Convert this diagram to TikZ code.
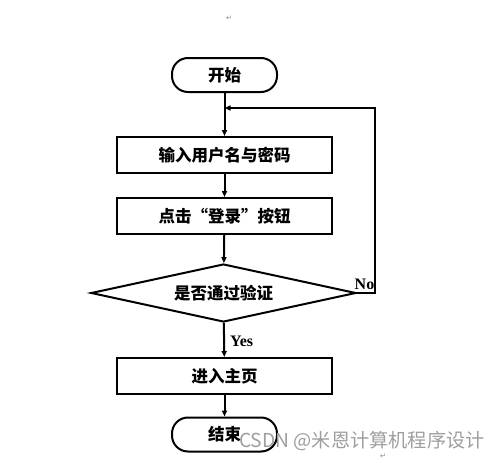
\documentclass[tikz,border=0pt]{standalone}
\usepackage{fontspec}
\setmainfont{Liberation Serif}
\newfontfamily\cjk{Noto Sans CJK SC}
\newfontfamily\symf{DejaVu Sans}
\usetikzlibrary{arrows.meta,shapes.geometric}
\begin{document}
\begin{tikzpicture}[x=1pt,y=-1pt,
  every node/.style={inner sep=0pt},
  lbl/.style={font=\cjk\bfseries\fontsize{16.5}{19}\selectfont},
  term/.style={draw, line width=2pt, rounded corners=16pt, minimum width=105pt, minimum height=34pt, lbl},
  proc/.style={draw, line width=2pt, minimum width=215pt, minimum height=36pt, lbl},
  dec/.style={draw, diamond, aspect=4.57, line width=2pt, minimum width=265pt, minimum height=58pt, lbl},
  flow/.style={line width=2pt, -{Triangle[length=6pt,width=5pt]}},
  yn/.style={font=\bfseries\fontsize{16}{18}\selectfont},
  pmark/.style={font=\symf\fontsize{7}{8}\selectfont, text=gray}
]
\useasboundingbox (0,0) rectangle (499,463);
\node[term] (start) at (224.5,75) {开始};
\node[proc] (in) at (224.5,155) {输入用户名与密码};
\node[proc] (click) at (224.5,216) {点击“登录”按钮};
\node[dec] (chk) at (223.5,293) {是否通过验证};
\node[proc] (home) at (224.5,376) {进入主页};
\node[term] (stop) at (224.5,434.5) {结束};
\coordinate (nr) at (375,293);
\coordinate (tr) at (375,108);
\coordinate (jn) at (224.5,108);
\draw[flow] (start) -- (in);
\draw[flow] (in) -- (click);
\draw[flow] (click) -- (chk);
\draw[flow] (chk) -- node[yn, right, xshift=5pt, yshift=-1pt] {Yes} (home);
\draw[flow] (home) -- (stop);
\draw[flow] (chk.east) -- (nr) -- (tr) -- (jn);
\node[yn] (no) at (364.5,284) {No};
\node[font=\cjk\fontsize{19.2}{21}\selectfont, text=black!38, anchor=west] (wm) at (239,441) {CSDN @米恩计算机程序设计};
\node[pmark] (pm1) at (229,18) {↵};
\node[pmark] (pm2) at (383,456) {↵};
\end{tikzpicture}
\end{document}
